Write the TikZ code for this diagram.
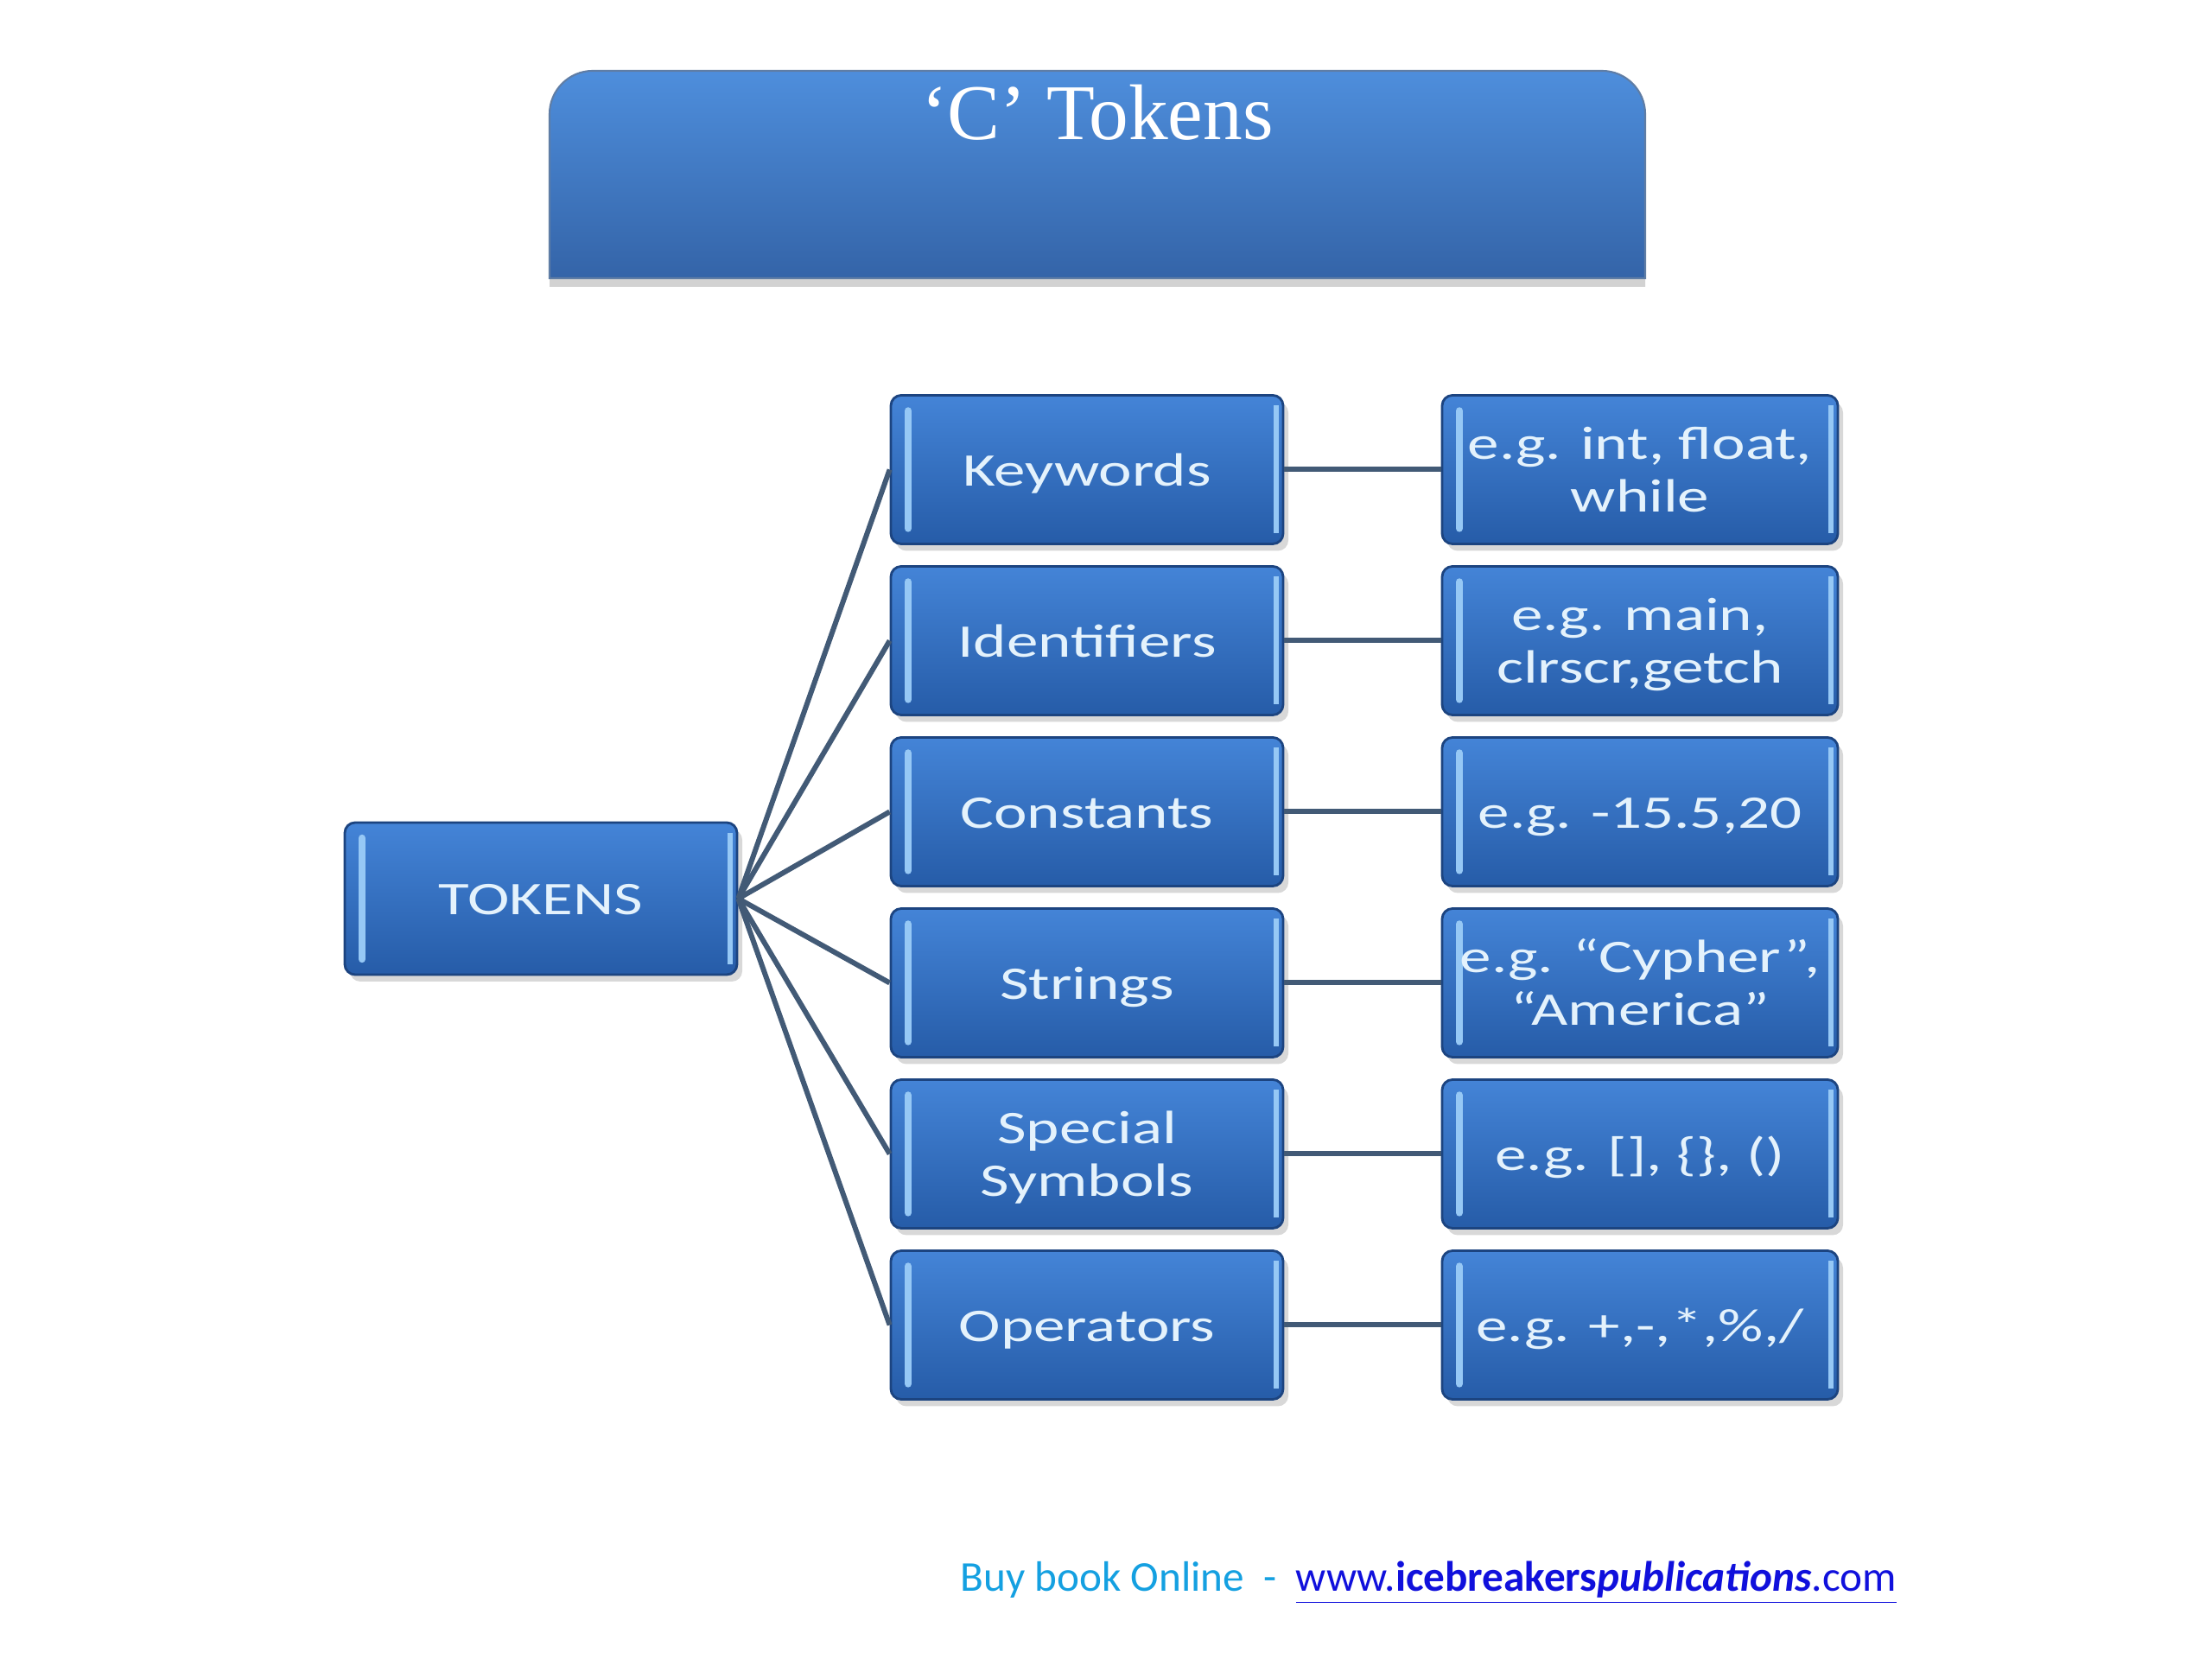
\documentclass[tikz,border=0pt]{standalone}
\usepackage{fontspec}
\setmainfont{Carlito}
\newfontfamily\titlefont{Liberation Serif}
\usepackage{graphicx}
\usepackage{xcolor}
\usetikzlibrary{shadows}
\usetikzlibrary{calc}
\definecolor{boxTop}{RGB}{68,132,215}
\definecolor{boxBot}{RGB}{38,92,168}
\definecolor{boxEdge}{RGB}{28,68,128}
\definecolor{boxHi}{RGB}{150,200,245}
\definecolor{boxTxt}{RGB}{228,242,252}
\definecolor{wireCol}{RGB}{66,90,118}
\definecolor{titleTop}{RGB}{78,142,220}
\definecolor{titleBot}{RGB}{52,100,168}
\definecolor{titleEdge}{RGB}{95,125,165}
\definecolor{footCyan}{RGB}{20,160,225}
\definecolor{footBlue}{RGB}{16,16,220}
\newcommand{\wideTxt}[1]{\raisebox{-1.8pt}[\height][\depth]{\scalebox{1.35}[1]{\begin{tabular}{@{}c@{}}#1\end{tabular}}}}
\tikzset{myTok/.style={rectangle, rounded corners=1.2mm, draw=boxEdge, line width=0.8pt, top color=boxTop, bottom color=boxBot, minimum height=1.72cm, inner sep=0pt, text=boxTxt, font=\fontsize{15.4}{17.4}\selectfont, drop shadow={shadow xshift=0.6mm, shadow yshift=-0.8mm, opacity=0.3}, path picture={\draw[boxHi, line width=2.4pt, line cap=round] ($(path picture bounding box.north west)+(0.2,-0.18)$) -- ($(path picture bounding box.south west)+(0.2,0.18)$); \draw[boxHi, line width=1.6pt] ($(path picture bounding box.north east)+(-0.08,-0.12)$) -- ($(path picture bounding box.south east)+(-0.08,0.12)$);}}}
\tikzset{myTokRoot/.style={myTok, minimum width=4.54cm, minimum height=1.76cm}}
\tikzset{myTokMid/.style={myTok, minimum width=4.54cm}}
\tikzset{myTokEx/.style={myTok, minimum width=4.58cm}}
\tikzset{myWire/.style={draw=wireCol, line width=1.7pt}}

\begin{document}
\begin{tikzpicture}

\useasboundingbox (0,0) rectangle (25.6,19.2);
\fill[white] (0,0) rectangle (25.6,19.2);

\path[top color=titleTop, bottom color=titleBot, draw=titleEdge, line width=0.6pt, drop shadow={shadow xshift=0mm, shadow yshift=-1mm, opacity=0.35}]
(6.36,15.98) -- (6.36,17.88) arc[start angle=180, end angle=90, radius=0.5] -- (18.54,18.38) arc[start angle=90, end angle=0, radius=0.5] -- (19.04,15.98) -- cycle;
\node[text=white, font=\titlefont\fontsize{26}{30}\selectfont, anchor=base] (title) at (12.70, 17.58) {‘C’ Tokens};

\node[myTokRoot] (root) at (6.26, 8.80) {\wideTxt{TOKENS}};

\node[myTokMid] (kw) at (12.58, 13.765) {\wideTxt{Keywords}};
\node[myTokMid] (ident) at (12.58, 11.785) {\wideTxt{Identifiers}};
\node[myTokMid] (const) at (12.58, 9.805) {\wideTxt{Constants}};
\node[myTokMid] (str) at (12.58, 7.825) {\wideTxt{Strings}};
\node[myTokMid] (spec) at (12.58, 5.845) {\wideTxt{Special\\Symbols}};
\node[myTokMid] (oper) at (12.58, 3.865) {\wideTxt{Operators}};

\node[myTokEx] (kwEx) at (18.98, 13.765) {\wideTxt{e.g. int, float,\\while}};
\node[myTokEx] (identEx) at (18.98, 11.785) {\wideTxt{e.g. main,\\clrscr,getch}};
\node[myTokEx] (constEx) at (18.98, 9.805) {\wideTxt{e.g. -15.5,20}};
\node[myTokEx] (strEx) at (18.98, 7.825) {\wideTxt{e.g. “Cypher”,\\“America”}};
\node[myTokEx] (specEx) at (18.98, 5.845) {\wideTxt{e.g. [], \{\}, ()}};
\node[myTokEx] (operEx) at (18.98, 3.865) {\wideTxt{e.g. +,-,*,\%,/}};

\draw[myWire] (root.east) -- (kw.west);
\draw[myWire] (root.east) -- (ident.west);
\draw[myWire] (root.east) -- (const.west);
\draw[myWire] (root.east) -- (str.west);
\draw[myWire] (root.east) -- (spec.west);
\draw[myWire] (root.east) -- (oper.west);

\draw[myWire] (kw.east) -- (kwEx.west);
\draw[myWire] (ident.east) -- (identEx.west);
\draw[myWire] (const.east) -- (constEx.west);
\draw[myWire] (str.east) -- (strEx.west);
\draw[myWire] (spec.east) -- (specEx.west);
\draw[myWire] (oper.east) -- (operEx.west);

\node[anchor=base west, inner sep=0pt, font=\fontsize{14}{16}\selectfont] (foot) at (11.11, 0.78) {\textcolor{footCyan}{Buy book Online\ \ -\ \ }\textcolor{footBlue}{\underline{www.\textbf{icebreakers}\textbf{\textit{publications}}.com}}};

\end{tikzpicture}
\end{document}
